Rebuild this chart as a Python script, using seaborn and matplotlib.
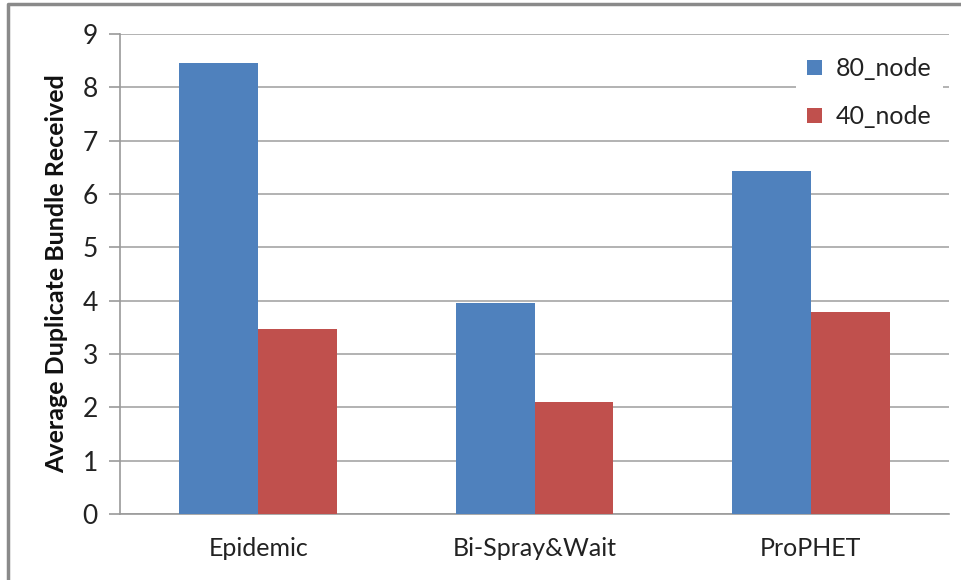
import matplotlib
matplotlib.use("Agg")
import matplotlib.pyplot as plt
import seaborn as sns
import pandas as pd
from matplotlib.lines import Line2D
from matplotlib.patches import Patch

categories = ["Epidemic", "Bi-Spray&Wait", "ProPHET"]
series_names = ["80_node", "40_node"]
node80 = [8.46, 3.96, 6.44]
node40 = [3.46, 2.10, 3.79]
y_ticks = [0, 1, 2, 3, 4, 5, 6, 7, 8, 9]

colors = ["#4F81BD", "#C0504D"]

df = pd.DataFrame({
    "protocol": categories * 2,
    "value": node80 + node40,
    "series": [series_names[0]] * 3 + [series_names[1]] * 3,
})

sns.set_style("white")
plt.rcParams["font.family"] = ["Lato", "DejaVu Sans"]

fig = plt.figure(figsize=(9.61, 5.8), dpi=100)
ax = fig.add_axes([120 / 961, 66 / 580, 829 / 961, 480 / 580])

sns.barplot(data=df, x="protocol", y="value", hue="series", palette=colors,
            width=0.57, gap=0, ax=ax, saturation=1, legend=False, zorder=3,
            linewidth=0)

ax.set_xlim(-0.5, 2.5)
ax.set_ylim(0, 9)
ax.set_yticks(y_ticks)
ax.yaxis.grid(True, color="#A6A6A6", linewidth=1.2, zorder=0)
ax.set_axisbelow(True)
for s in ["top", "right"]:
    ax.spines[s].set_visible(False)
for s in ["left", "bottom"]:
    ax.spines[s].set_color("#9A9A9A")
    ax.spines[s].set_linewidth(1.2)
ax.tick_params(axis="y", which="both", left=True, length=8, width=1.2,
               color="#9A9A9A", labelsize=19, labelcolor="#222222", pad=8)
ax.tick_params(axis="x", bottom=False, labelsize=18, labelcolor="#222222", pad=13)
ax.set_xlabel("")
ax.set_ylabel("Average Duplicate Bundle Received", fontsize=18, fontweight="bold",
              color="#111111", labelpad=10)

handles = [Patch(facecolor=c, edgecolor="none") for c in colors]
leg = ax.legend(handles, series_names, loc="upper right", bbox_to_anchor=(0.993, 0.975),
                frameon=True, fontsize=18, handlelength=0.6, handleheight=0.6,
                handletextpad=0.55, labelspacing=1.0, borderpad=0.45, borderaxespad=0)
leg.get_frame().set_facecolor("white")
leg.get_frame().set_edgecolor("none")
leg.get_frame().set_alpha(1)
leg.set_zorder(5)
for t in leg.get_texts():
    t.set_color("#222222")

fig.add_artist(Line2D([8 / 961, 8 / 961, 1.0], [0.0, 1 - 4 / 580, 1 - 4 / 580],
                      transform=fig.transFigure, color="#8A8A8A", linewidth=2.5))

fig.savefig("out.png", dpi=100, facecolor="white")
